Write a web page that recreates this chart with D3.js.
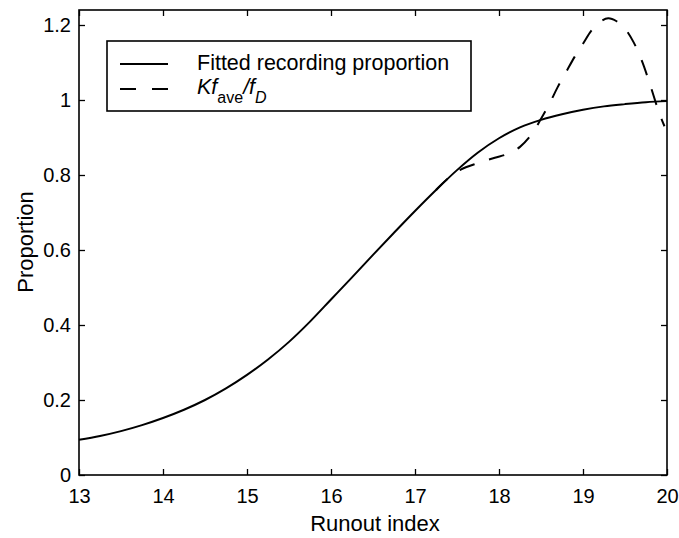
<!DOCTYPE html>
<meta charset="utf-8">
<script src="https://d3js.org/d3.v7.min.js"></script>
<style>
  body { margin: 0; background: #fff; }
  text { font-family: "Liberation Sans", Arial, sans-serif; fill: #000; }
</style>
<svg id="chart" width="679" height="538"></svg>
<script>

// fitted recording proportion (solid)
var fitX = [13, 13.25, 13.5, 13.75, 14, 14.25, 14.5, 14.75, 15, 15.25, 15.5, 15.75, 16, 16.25, 16.5, 16.75, 17, 17.25, 17.5, 17.75, 18, 18.25, 18.5, 18.75, 19, 19.25, 19.5, 19.75, 20];
var fitY = [0.094, 0.104, 0.117, 0.133, 0.152, 0.174, 0.200, 0.231, 0.267, 0.308, 0.355, 0.409, 0.468, 0.527, 0.587, 0.646, 0.704, 0.760, 0.813, 0.860, 0.898, 0.927, 0.947, 0.962, 0.974, 0.983, 0.989, 0.994, 0.997];

// K f_ave / f_D (dashed)
var kfX = [17.25, 17.4, 17.55, 17.75, 17.95, 18.1, 18.25, 18.4, 18.5, 18.6, 18.7, 18.8, 18.9, 19.0, 19.1, 19.2, 19.3, 19.4, 19.5, 19.6, 19.7, 19.8, 19.9, 19.97];
var kfY = [0.760, 0.792, 0.815, 0.832, 0.846, 0.856, 0.875, 0.912, 0.950, 0.990, 1.035, 1.075, 1.115, 1.150, 1.185, 1.208, 1.218, 1.210, 1.190, 1.155, 1.105, 1.040, 0.970, 0.930];

var xTicks = [13, 14, 15, 16, 17, 18, 19, 20];
var yTicks = [0, 0.2, 0.4, 0.6, 0.8, 1, 1.2];
var yTickLabels = ["0", "0.2", "0.4", "0.6", "0.8", "1", "1.2"];
var legendLabels = ["Fitted recording proportion", "Kf_ave/f_D"];

var svg = d3.select("#chart");

var x = d3.scaleLinear().domain([13, 20]).range([79, 667]);
var y = d3.scaleLinear().domain([0, 1.24]).range([475, 10]);

// axes, ticks pointing inward like matlab
var tick = 6;
svg.append("g")
  .attr("transform", "translate(0,475)")
  .call(d3.axisBottom(x).tickValues(xTicks).tickSize(-tick).tickPadding(14).tickFormat(d3.format("d")));
svg.append("g")
  .attr("transform", "translate(0,10)")
  .call(d3.axisTop(x).tickValues(xTicks).tickSize(-tick).tickFormat(""));
svg.append("g")
  .attr("transform", "translate(79,0)")
  .call(d3.axisLeft(y).tickValues(yTicks).tickSize(-tick).tickPadding(8)
    .tickFormat(function(d, i) { return yTickLabels[i]; }));
svg.append("g")
  .attr("transform", "translate(667,0)")
  .call(d3.axisRight(y).tickValues(yTicks).tickSize(-tick).tickFormat(""));

svg.selectAll(".domain").remove();
svg.selectAll(".tick line").attr("stroke", "#000").attr("stroke-width", 1.3);
svg.selectAll(".tick text").style("font-size", "20px");

// frame
svg.append("rect")
  .attr("x", 79).attr("y", 10)
  .attr("width", 588).attr("height", 465)
  .attr("fill", "none").attr("stroke", "#000").attr("stroke-width", 1.6);

var line = d3.line()
  .x(function(d) { return x(d[0]); })
  .y(function(d) { return y(d[1]); })
  .curve(d3.curveCatmullRom);

svg.append("path")
  .datum(d3.zip(fitX, fitY))
  .attr("d", line)
  .attr("fill", "none").attr("stroke", "#000").attr("stroke-width", 2);

svg.append("path")
  .datum(d3.zip(kfX, kfY))
  .attr("d", line)
  .attr("fill", "none").attr("stroke", "#000").attr("stroke-width", 2)
  .attr("stroke-dasharray", "16,15");

// axis titles
svg.append("text")
  .attr("x", 375).attr("y", 531)
  .attr("text-anchor", "middle")
  .style("font-size", "22px")
  .text("Runout index");
svg.append("text")
  .attr("transform", "translate(33,242) rotate(-90)")
  .attr("text-anchor", "middle")
  .style("font-size", "22px")
  .text("Proportion");

// legend
var lg = svg.append("g");
lg.append("rect")
  .attr("x", 107).attr("y", 41).attr("width", 364).attr("height", 70)
  .attr("fill", "#fff").attr("stroke", "#000").attr("stroke-width", 1.6);
lg.append("line")
  .attr("x1", 120).attr("x2", 168).attr("y1", 64).attr("y2", 64)
  .attr("stroke", "#000").attr("stroke-width", 2);
lg.append("line")
  .attr("x1", 120).attr("x2", 168).attr("y1", 89).attr("y2", 89)
  .attr("stroke", "#000").attr("stroke-width", 2).attr("stroke-dasharray", "16,16");
lg.append("text")
  .attr("x", 197).attr("y", 70)
  .style("font-size", "21.5px")
  .text(legendLabels[0]);

// Kf_ave / f_D with subscripts
var parts = legendLabels[1].split(/[_\/]/);
var t2 = lg.append("text").attr("x", 197).attr("y", 94).style("font-size", "21.5px");
t2.append("tspan").style("font-style", "italic").text(parts[0]);
t2.append("tspan").attr("dy", 9).style("font-size", "16px").text(parts[1]);
t2.append("tspan").attr("dy", -9).style("font-style", "italic").text("/" + parts[2]);
t2.append("tspan").attr("dy", 9).style("font-size", "16px").style("font-style", "italic").text(parts[3]);

</script>
